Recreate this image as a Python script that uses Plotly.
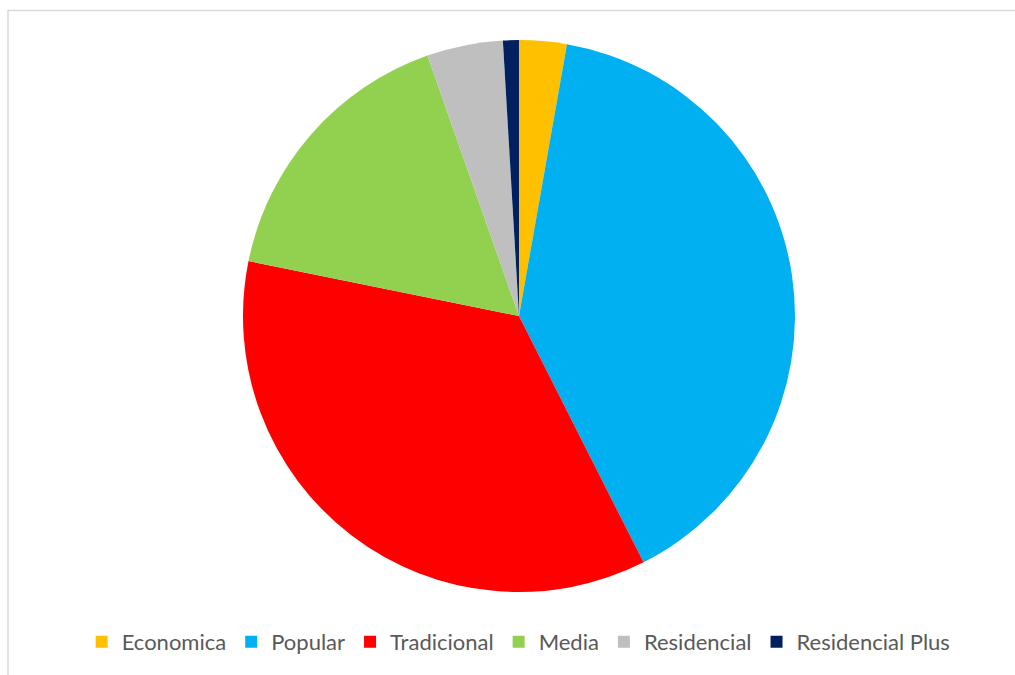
import plotly.graph_objects as go

# Share of housing segments (%)
categories = ["Economica", "Popular", "Tradicional", "Media", "Residencial", "Residencial Plus"]
shares = [2.78, 39.77, 35.64, 16.43, 4.45, 0.93]
colors = ["#FFC000", "#00B0F0", "#FF0000", "#92D050", "#BFBFBF", "#002060"]

W, H = 1015, 675
cx, cy, r = 519, 316, 276

fig = go.Figure(
    go.Pie(
        labels=categories,
        values=shares,
        sort=False,
        direction="clockwise",
        rotation=0,
        marker=dict(colors=colors, line=dict(width=0)),
        textinfo="none",
        hoverinfo="label+percent",
        domain=dict(
            x=[(cx - r) / W, (cx + r) / W],
            y=[1 - (cy + r) / H, 1 - (cy - r) / H],
        ),
    )
)

fig.update_layout(
    width=W,
    height=H,
    margin=dict(l=0, r=0, t=0, b=0),
    paper_bgcolor="white",
    font=dict(family="Lato, 'Open Sans', sans-serif", color="#595959"),
    legend=dict(
        orientation="h",
        x=0.511,
        xanchor="center",
        y=1 - 642 / H,
        yanchor="middle",
        font=dict(size=22, color="#595959"),
        itemwidth=30,
        tracegroupgap=0,
    ),
    shapes=[
        dict(
            type="rect",
            xref="paper",
            yref="paper",
            x0=8 / W,
            x1=1.02,
            y0=-0.02,
            y1=1 - 10.5 / H,
            line=dict(color="#D9D9D9", width=1.5),
            fillcolor="rgba(0,0,0,0)",
        )
    ],
)

fig.write_html("out.html")
